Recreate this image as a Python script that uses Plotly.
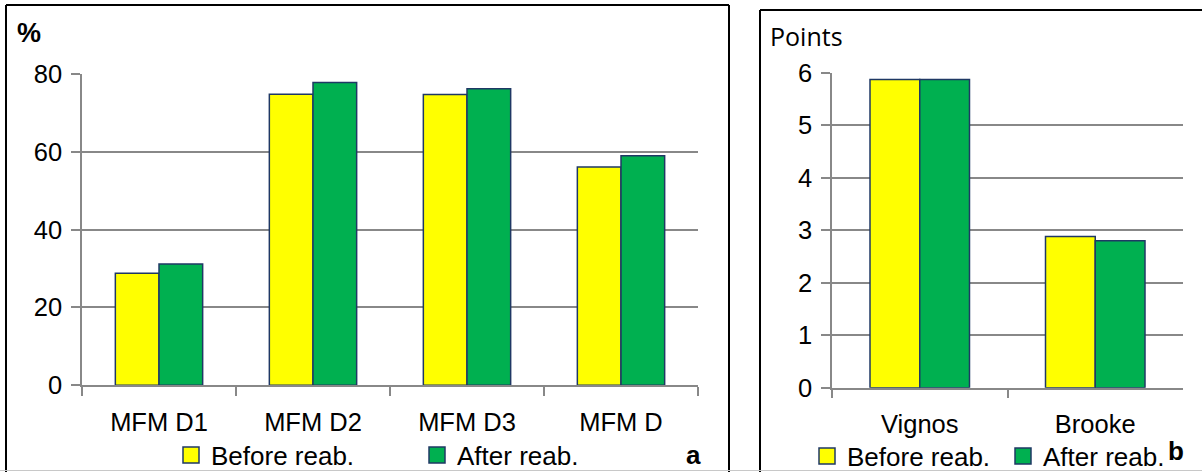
import plotly.graph_objects as go

# Panel a: MFM domain scores (%)
mfm_categories = ["MFM D1", "MFM D2", "MFM D3", "MFM D"]
mfm_before = [28.8, 74.8, 74.7, 56.1]
mfm_after = [31.2, 77.8, 76.2, 59.0]

# Panel b: functional scales (points)
scale_categories = ["Vignos", "Brooke"]
scale_before = [5.87, 2.88]
scale_after = [5.87, 2.80]

series_names = ["Before reab.", "After reab."]
mfm_ticks = [0, 20, 40, 60, 80]
scale_ticks = [0, 1, 2, 3, 4, 5, 6]

W, H = 1202, 472
YELLOW = "#FFFF00"
GREEN = "#00B050"
OUTLINE = "#1F3864"
GRID = "#888888"
FONT = "Liberation Sans, Arial, sans-serif"


def px_x(p):
    return p / W


def px_y(p):
    return 1 - p / H


fig = go.Figure()

bar_line = dict(color=OUTLINE, width=1.5)

fig.add_trace(go.Bar(x=mfm_categories, y=mfm_before, name=series_names[0],
                     marker=dict(color=YELLOW, line=bar_line),
                     xaxis="x", yaxis="y", showlegend=False))
fig.add_trace(go.Bar(x=mfm_categories, y=mfm_after, name=series_names[1],
                     marker=dict(color=GREEN, line=bar_line),
                     xaxis="x", yaxis="y", showlegend=False))
fig.add_trace(go.Bar(x=scale_categories, y=scale_before, name=series_names[0],
                     marker=dict(color=YELLOW, line=bar_line),
                     xaxis="x2", yaxis="y2", showlegend=False))
fig.add_trace(go.Bar(x=scale_categories, y=scale_after, name=series_names[1],
                     marker=dict(color=GREEN, line=bar_line),
                     xaxis="x2", yaxis="y2", showlegend=False))

# Legend entries: one legend per entry so each can sit at its own spot
legend_specs = [
    ("legend", series_names[0], YELLOW, "x", "y", mfm_categories[0]),
    ("legend2", series_names[1], GREEN, "x", "y", mfm_categories[0]),
    ("legend3", series_names[0], YELLOW, "x2", "y2", scale_categories[0]),
    ("legend4", series_names[1], GREEN, "x2", "y2", scale_categories[0]),
]
for leg, name, color, xa, ya, cat in legend_specs:
    fig.add_trace(go.Scatter(
        x=[cat], y=[None], mode="markers", name=name, legend=leg,
        marker=dict(symbol="square", size=16, color=color,
                    line=dict(color=OUTLINE, width=1.5)),
        xaxis=xa, yaxis=ya, hoverinfo="skip", showlegend=True))

tickfont = dict(family=FONT, size=25.5, color="black")

common_x = dict(type="category", showline=True, linecolor=GRID, linewidth=1.5,
                ticks="outside", tickson="boundaries", ticklen=9,
                tickcolor=GRID, tickwidth=1.5, showgrid=False,
                tickfont=tickfont, ticklabelstandoff=13, fixedrange=True,
                automargin=False)
common_y = dict(showline=True, linecolor=GRID, linewidth=1.5,
                ticks="outside", ticklen=9, tickcolor=GRID, tickwidth=1.5,
                showgrid=True, gridcolor=GRID, gridwidth=1.5, zeroline=False,
                tickfont=tickfont, ticklabelstandoff=4, fixedrange=True,
                automargin=False)

legend_common = dict(font=dict(family=FONT, size=26, color="black"),
                     bgcolor="rgba(0,0,0,0)", borderwidth=0,
                     xanchor="left", yanchor="middle", orientation="h")

fig.update_layout(
    template="none",
    width=W, height=H,
    margin=dict(l=0, r=0, t=0, b=0, autoexpand=False),
    paper_bgcolor="white", plot_bgcolor="white",
    barmode="group", bargap=0.433, bargroupgap=0,
    xaxis=dict(domain=[px_x(82), px_x(698)], anchor="y", **common_x),
    yaxis=dict(domain=[px_y(385.3), px_y(74)], anchor="x", range=[0, 80],
               tickvals=mfm_ticks, **common_y),
    xaxis2=dict(domain=[px_x(832), px_x(1183)], anchor="y2", **common_x),
    yaxis2=dict(domain=[px_y(387.7), px_y(72.7)], anchor="x2", range=[0, 6],
                tickvals=scale_ticks, **common_y),
    legend=dict(x=px_x(171), y=px_y(455), **legend_common),
    legend2=dict(x=px_x(417), y=px_y(455), **legend_common),
    legend3=dict(x=px_x(807), y=px_y(456), **legend_common),
    legend4=dict(x=px_x(1003), y=px_y(456), **legend_common),
    showlegend=True,
)

# Panel frames
frame = dict(type="line", xref="paper", yref="paper",
             line=dict(color="black", width=2))
fig.add_shape(x0=px_x(6), x1=px_x(6), y0=px_y(5), y1=px_y(472), **frame)
fig.add_shape(x0=px_x(6), x1=px_x(729), y0=px_y(5), y1=px_y(5), **frame)
fig.add_shape(x0=px_x(729), x1=px_x(729), y0=px_y(5), y1=px_y(472), **frame)
fig.add_shape(x0=px_x(760), x1=px_x(760), y0=px_y(10), y1=px_y(472), **frame)
fig.add_shape(x0=px_x(760), x1=1, y0=px_y(10), y1=px_y(10), **frame)
fig.add_shape(type="line", xref="paper", yref="paper",
              x0=0, x1=1, y0=px_y(470.5), y1=px_y(470.5),
              line=dict(color="#C8C8C8", width=1))

# Axis titles and panel letters
fig.add_annotation(text="<b>%</b>", xref="paper", yref="paper",
                   x=px_x(15), y=px_y(33), xanchor="left", yanchor="middle",
                   showarrow=False, font=dict(family=FONT, size=27, color="black"))
fig.add_annotation(text="Points", xref="paper", yref="paper",
                   x=px_x(768), y=px_y(36), xanchor="left", yanchor="middle",
                   showarrow=False,
                   font=dict(family="Open Sans, sans-serif", size=25, color="black"))
fig.add_annotation(text="<b>a</b>", xref="paper", yref="paper",
                   x=px_x(684), y=px_y(455), xanchor="left", yanchor="middle",
                   showarrow=False, font=dict(family=FONT, size=26, color="black"))
fig.add_annotation(text="<b>b</b>", xref="paper", yref="paper",
                   x=px_x(1166), y=px_y(451), xanchor="left", yanchor="middle",
                   showarrow=False, font=dict(family=FONT, size=26, color="black"))

fig.write_html("out.html")
